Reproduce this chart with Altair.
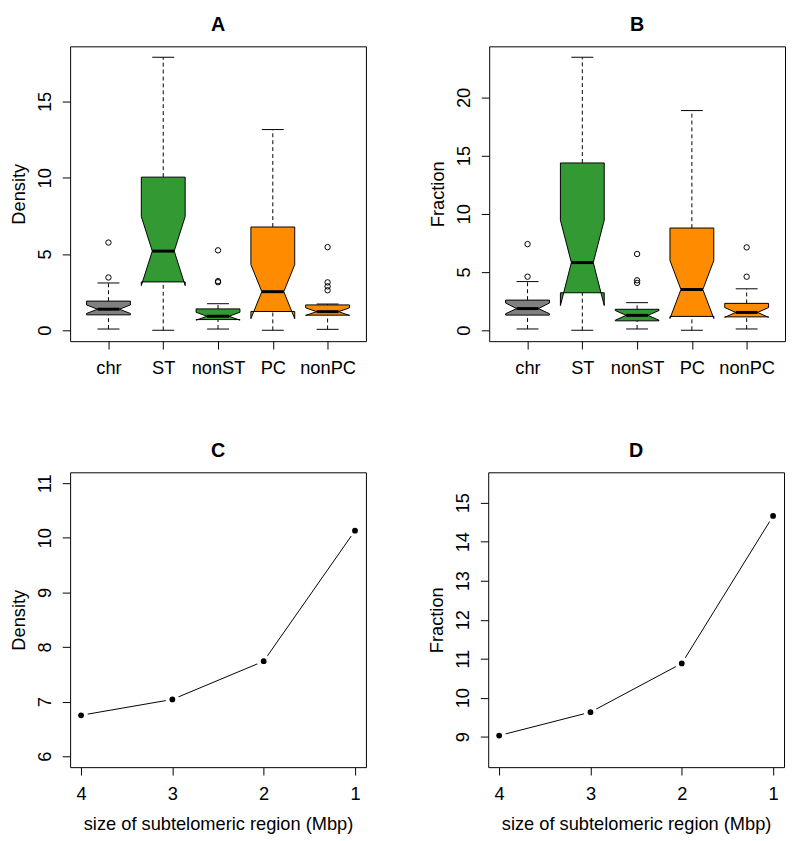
import altair as alt
import pandas as pd

FONT = "Liberation Sans"

cats = ["chr", "ST", "nonST", "PC", "nonPC"]
box_fill = ["#808080", "#339933", "#339933", "#FF8C00", "#FF8C00"]

# Panel A (Density) box statistics
a_q1 = [1.01, 3.17, 0.70, 1.23, 0.99]
a_nlo = [1.10, 2.93, 0.66, 0.76, 0.97]
a_med = [1.38, 5.19, 0.92, 2.53, 1.22]
a_nhi = [1.66, 7.45, 1.18, 4.30, 1.47]
a_q3 = [1.91, 10.04, 1.40, 6.77, 1.66]
a_wlo = [0.08, 0.00, 0.08, 0.00, 0.06]
a_whi = [3.10, 17.90, 1.74, 13.16, 1.72]
a_out = [[3.46, 5.75], [], [3.15, 3.22, 5.24], [], [2.62, 2.88, 3.14, 5.45]]
a_ticks = [0, 5, 10, 15]

# Panel B (Fraction) box statistics
b_q1 = [1.30, 3.22, 0.81, 1.19, 1.15]
b_nlo = [1.42, 2.12, 0.86, 1.01, 1.11]
b_med = [1.86, 5.81, 1.28, 3.50, 1.53]
b_nhi = [2.34, 9.46, 1.70, 5.99, 1.95]
b_q3 = [2.59, 14.37, 1.80, 8.78, 2.31]
b_wlo = [0.11, 0.00, 0.11, 0.00, 0.11]
b_whi = [4.18, 23.45, 2.37, 18.87, 3.56]
b_out = [[4.60, 7.40], [], [4.07, 4.29, 6.55], [], [4.60, 7.12]]
b_ticks = [0, 5, 10, 15, 20]

# Panels C and D
sizes = [4, 3, 2, 1]
c_density = [6.75, 7.04, 7.74, 10.13]
d_fraction = [9.03, 9.63, 10.88, 14.66]
c_ticks = [6, 7, 8, 9, 10, 11]
d_ticks = [9, 10, 11, 12, 13, 14, 15]
c_ylim = [6, 11]
d_ylim = [8.5, 15.5]

W = 300
H = 299
HALF = 0.4
NOTCH = 0.5
STAPLE = 0.2
FS = 18.5


def ext(lo, hi):
    r = hi - lo
    return [lo - 0.04 * r, hi + 0.04 * r]


def box_panel(title, ytitle, q1, nlo, med, nhi, q3, wlo, whi, outs, yticks):
    n = len(cats)
    lo = min(wlo + [min(o) for o in outs if o])
    hi = max(whi + [max(o) for o in outs if o])
    xs = alt.Scale(domain=ext(0.5, n + 0.5), zero=False, nice=False)
    ys = alt.Scale(domain=ext(lo, hi), zero=False, nice=False)
    label_list = "[" + ",".join("'%s'" % c for c in cats) + "]"
    xaxis = alt.Axis(values=list(range(1, n + 1)), labelExpr=label_list + "[datum.value - 1]", title=None)
    yaxis = alt.Axis(values=yticks, title=ytitle)

    def X(f):
        return alt.X(f, type="quantitative", scale=xs, axis=xaxis)

    def Y(f):
        return alt.Y(f, type="quantitative", scale=ys, axis=yaxis)

    whisk = []
    staple = []
    medd = []
    outd = []
    for k in range(n):
        p = k + 1
        whisk.append({"x": p, "y": wlo[k], "y2": q1[k]})
        whisk.append({"x": p, "y": q3[k], "y2": whi[k]})
        staple.append({"x": p - STAPLE, "x2": p + STAPLE, "y": wlo[k]})
        staple.append({"x": p - STAPLE, "x2": p + STAPLE, "y": whi[k]})
        medd.append({"x": p - HALF * NOTCH, "x2": p + HALF * NOTCH, "y": med[k]})
        for v in outs[k]:
            outd.append({"x": p, "y": v})

    layers = []
    layers.append(
        alt.Chart(pd.DataFrame(whisk)).mark_rule(color="black", strokeWidth=1, strokeDash=[4, 3]).encode(
            x=X("x"), y=Y("y"), y2="y2")
    )
    layers.append(
        alt.Chart(pd.DataFrame(staple)).mark_rule(color="black", strokeWidth=1).encode(
            x=X("x"), x2="x2", y=Y("y"))
    )
    for k in range(n):
        p = k + 1
        fx = [-1, 1, 1, NOTCH, 1, 1, -1, -1, -NOTCH, -1]
        fy = [q1[k], q1[k], nlo[k], med[k], nhi[k], q3[k], q3[k], nhi[k], med[k], nlo[k]]
        poly = pd.DataFrame({"i": list(range(len(fx))),
                             "px": [p + HALF * f for f in fx],
                             "py": fy})
        layers.append(
            alt.Chart(poly).mark_line(interpolate="linear-closed", fill=box_fill[k], stroke="black",
                                      strokeWidth=1, strokeJoin="miter").encode(
                x=X("px"), y=Y("py"), order=alt.Order("i:Q"))
        )
    layers.append(
        alt.Chart(pd.DataFrame(medd)).mark_rule(color="black", strokeWidth=3).encode(
            x=X("x"), x2="x2", y=Y("y"))
    )
    layers.append(
        alt.Chart(pd.DataFrame(outd)).mark_point(shape="circle", filled=False, size=30, color="black",
                                                 strokeWidth=1, opacity=1).encode(
            x=X("x"), y=Y("y"))
    )
    return alt.layer(*layers).properties(width=W, height=H, title=title)


def line_panel(title, ytitle, yvals, yticks, ylim):
    df = pd.DataFrame({"size": sizes, "v": yvals})
    xs = alt.Scale(domain=ext(min(sizes), max(sizes)), reverse=True, zero=False, nice=False)
    ys = alt.Scale(domain=ext(ylim[0], ylim[1]), zero=False, nice=False)
    xaxis = alt.Axis(values=sizes, title="size of subtelomeric region (Mbp)", format="d")
    yaxis = alt.Axis(values=yticks, title=ytitle, format="d")
    enc = dict(x=alt.X("size:Q", scale=xs, axis=xaxis), y=alt.Y("v:Q", scale=ys, axis=yaxis))
    base = alt.Chart(df)
    line = base.mark_line(color="black", strokeWidth=1).encode(order=alt.Order("size:Q", sort="descending"), **enc)
    halo = base.mark_circle(color="white", size=190, opacity=1).encode(**enc)
    dots = base.mark_circle(color="black", size=34, opacity=1).encode(**enc)
    return alt.layer(line, halo, dots).properties(width=W, height=H, title=title)


A = box_panel("A", "Density", a_q1, a_nlo, a_med, a_nhi, a_q3, a_wlo, a_whi, a_out, a_ticks)
B = box_panel("B", "Fraction", b_q1, b_nlo, b_med, b_nhi, b_q3, b_wlo, b_whi, b_out, b_ticks)
C = line_panel("C", "Density", c_density, c_ticks, c_ylim)
D = line_panel("D", "Fraction", d_fraction, d_ticks, d_ylim)

chart = alt.vconcat(
    alt.hconcat(A, B, spacing=61),
    alt.hconcat(C, D, spacing=61),
    spacing=63,
).properties(padding=0).configure(font=FONT).configure_view(
    stroke="black", strokeWidth=1
).configure_title(
    font=FONT, fontSize=20, fontWeight="bold", color="black", offset=12, baseline="bottom", anchor="middle"
).configure_axis(
    domain=False, grid=False, ticks=True, tickColor="black", tickSize=8, tickWidth=1,
    labelFont=FONT, labelFontSize=FS, labelColor="black", labelFlush=False, labelOverlap=False,
    titleFont=FONT, titleFontSize=FS, titleFontWeight="normal", titleColor="black"
).configure_axisX(
    labelAngle=0, labelPadding=10, titlePadding=12
).configure_axisY(
    labelAngle=270, labelAlign="center", labelBaseline="alphabetic", labelPadding=12,
    titleAngle=270, titleBaseline="bottom", titlePadding=7.5
)

chart.save("out.html", embed_options={"renderer": "svg", "actions": False})
